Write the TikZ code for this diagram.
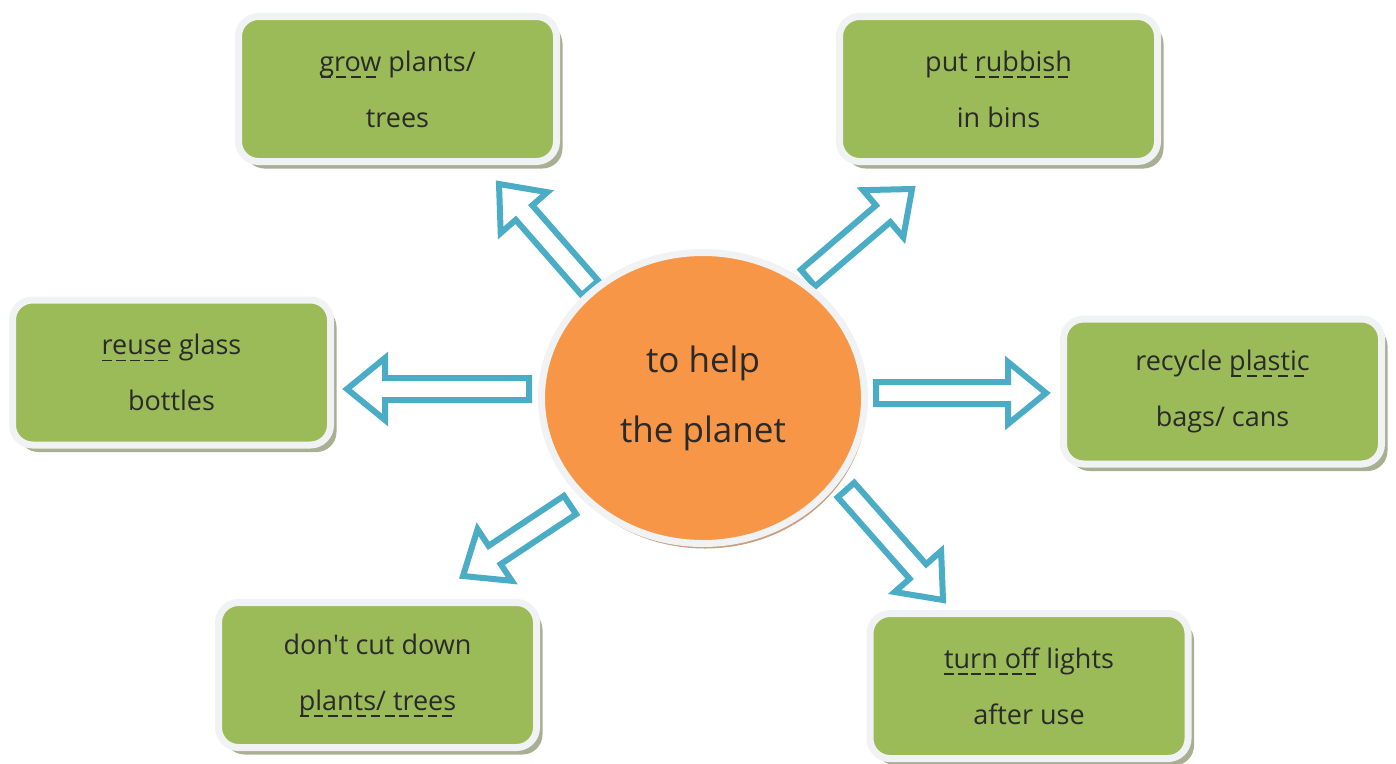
\documentclass[tikz,border=0pt]{standalone}
\usepackage{fontspec}
\setmainfont{Open Sans}
\usetikzlibrary{shapes.geometric,shadows,calc}

\definecolor{leafgreen}{HTML}{9BBB59}
\definecolor{sunorange}{HTML}{F79646}
\definecolor{arrowblue}{HTML}{4BACC6}
\definecolor{ringgray}{HTML}{F0F2F4}
\definecolor{boxshade}{HTML}{A9AF93}
\definecolor{discshade}{HTML}{CC9D7E}
\definecolor{inkgray}{HTML}{2A2A2A}

% dashed underline
\newsavebox{\dulbox}
\newcommand{\dul}[1]{\sbox{\dulbox}{#1}%
  \rlap{\raisebox{-0.24em}{\hbox to \wd\dulbox{\xleaders\hbox{\vrule width 0.36em height 1.6pt\hskip 0.14em}\hfill}}}%
  \usebox{\dulbox}}

% hollow block arrow from tail (#1) to tip (#2)
\newcommand{\hollowarrow}[2]{%
  \coordinate (hb) at ($(#2)!38pt!(#1)$);
  \draw[blockarrow] ($(#1)!11pt!90:(#2)$) -- ($(hb)!11pt!90:(#2)$) -- ($(hb)!31pt!90:(#2)$)
    -- (#2) -- ($(hb)!31pt!-90:(#2)$) -- ($(hb)!11pt!-90:(#2)$) -- ($(#1)!11pt!-90:(#2)$) -- cycle;}

\begin{document}
\begin{tikzpicture}[x=1pt, y=-1pt,
    tipbox/.style ={rectangle, rounded corners=20pt, fill=leafgreen, draw=ringgray, line width=7pt,
      minimum width=318pt, minimum height=145pt, inner sep=0pt, align=center, text=inkgray,
      font=\fontsize{27}{56}\selectfont,
      drop shadow={shadow xshift=6pt, shadow yshift=-7pt, fill=boxshade, opacity=1}},
    planet/.style ={ellipse, fill=sunorange, draw=ringgray, line width=7pt, inner sep=0pt,
      minimum width=323pt, minimum height=291pt, align=center, text=inkgray,
      font=\fontsize{35}{70}\selectfont,
      drop shadow={shadow xshift=2pt, shadow yshift=-5pt, fill=discshade, opacity=1}},
    blockarrow/.style ={draw=arrowblue, fill=white, line width=6pt, line join=miter}]
   \useasboundingbox (0,0) rectangle (1396,763);

   \node[tipbox] (grow)    at (397.5,89)   {\dul{grow} plants/\\trees};
   \node[tipbox] (rubbish) at (998.5,89)   {put \dul{rubbish}\\in bins};
   \node[tipbox] (reuse)   at (171.5,372.5) {\dul{reuse} glass\\bottles};
   \node[tipbox] (recycle) at (1222.5,391.5) {recycle \dul{plastic}\\bags/ cans};
   \node[tipbox] (cut)     at (377.5,675)  {don\textquotesingle t cut down\\\dul{plants/ trees}};
   \node[tipbox] (lights)  at (1029,686)   {\dul{turn off} lights\\after use};

   \coordinate (t1) at (590,288);  \coordinate (h1) at (499,184);
   \coordinate (t2) at (808,278);  \coordinate (h2) at (912,189);
   \coordinate (t3) at (529,389);  \coordinate (h3) at (347,389);
   \coordinate (t4) at (876,393);  \coordinate (h4) at (1046,393);
   \coordinate (t5) at (570,505);  \coordinate (h5) at (463,576);
   \coordinate (t6) at (846,490);  \coordinate (h6) at (943,600);

   \hollowarrow{t1}{h1}
   \hollowarrow{t2}{h2}
   \hollowarrow{t3}{h3}
   \hollowarrow{t4}{h4}
   \hollowarrow{t5}{h5}
   \hollowarrow{t6}{h6}

   \node[planet] (help) at (703,398) {to help\\the planet};
\end{tikzpicture}
\end{document}
